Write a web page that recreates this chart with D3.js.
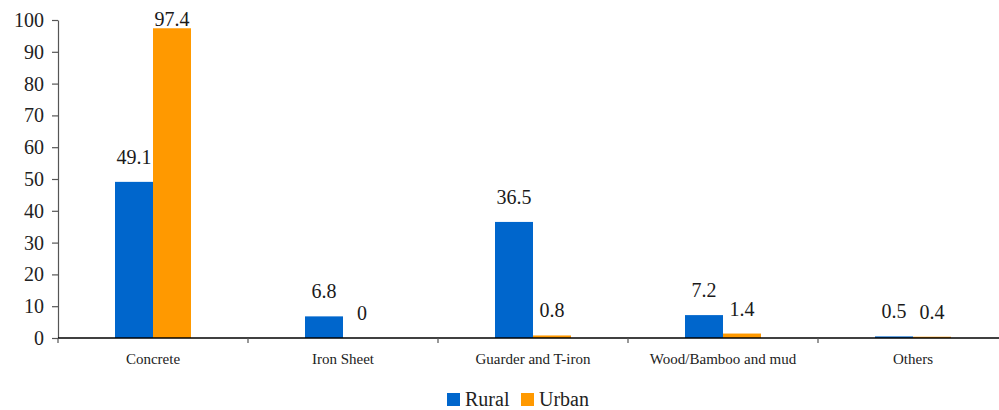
<!DOCTYPE html>
<html>
<head>
<meta charset="utf-8">
<script src="https://cdn.jsdelivr.net/npm/d3@7"></script>
<style>
  html, body { margin: 0; padding: 0; background: #fff; }
  svg { display: block; }
  svg text { font-family: "Liberation Serif", serif; }
</style>
</head>
<body>
<svg id="chart" width="999" height="410"></svg>
<script>
// Roof material shares (%) by area
const categories = ["Concrete", "Iron Sheet", "Guarder and T-iron", "Wood/Bamboo and mud", "Others"];
const rural = [49.1, 6.8, 36.5, 7.2, 0.5];
const urban = [97.4, 0, 0.8, 1.4, 0.4];
const seriesNames = ["Rural", "Urban"];
const yTicks = [0, 10, 20, 30, 40, 50, 60, 70, 80, 90, 100];

const colors = { Rural: "#0066CC", Urban: "#FF9900" };
const serifFont = "\"Liberation Serif\", serif";
const series = [
  { name: seriesNames[0], values: rural },
  { name: seriesNames[1], values: urban }
];

const svg = d3.select("#chart");
const plotLeft = 58, plotTop = 20, plotBottom = 338, bandStep = 190;

const x = d3.scaleBand()
  .domain(categories)
  .range([plotLeft, plotLeft + bandStep * categories.length])
  .paddingInner(0).paddingOuter(0);

const y = d3.scaleLinear().domain([0, 100]).range([plotBottom, plotTop]);

const barW = x.bandwidth() * 0.2;

// bars
series.forEach((s, si) => {
  svg.append("g")
    .selectAll("rect")
    .data(s.values)
    .join("rect")
    .attr("x", (d, i) => x(categories[i]) + x.bandwidth() / 2 - barW + si * barW)
    .attr("y", d => y(d))
    .attr("width", barW)
    .attr("height", d => y(0) - y(d))
    .attr("fill", colors[s.name]);
});

// value labels above bars
series.forEach((s, si) => {
  svg.append("g")
    .selectAll("text")
    .data(s.values)
    .join("text")
    .attr("x", (d, i) => x(categories[i]) + x.bandwidth() / 2 - barW / 2 + si * barW)
    .attr("y", d => Math.max(y(d) - 18, plotTop + 6))
    .attr("text-anchor", "middle")
    .style("font-family", serifFont)
    .style("font-size", "20px")
    .attr("fill", "#1a1a1a")
    .text(d => d);
});

// y axis
const yAxis = svg.append("g")
  .attr("transform", `translate(${plotLeft},0)`)
  .call(d3.axisLeft(y).tickValues(yTicks).tickSize(6).tickPadding(8).tickSizeOuter(0));
yAxis.attr("font-family", null).attr("font-size", null);
yAxis.select(".domain").attr("stroke", "#555").attr("stroke-width", 1.2);
yAxis.selectAll(".tick line").attr("stroke", "#555").attr("stroke-width", 1.2);
yAxis.selectAll(".tick text")
  .style("font-family", serifFont)
  .style("font-size", "20px")
  .attr("fill", "#222");

// x axis: ticks at category boundaries, labels centred in bands
const xg = svg.append("g").attr("transform", `translate(0,${plotBottom})`);
xg.append("line")
  .attr("x1", plotLeft).attr("x2", x.range()[1])
  .attr("y1", 0).attr("y2", 0)
  .attr("stroke", "#000").attr("stroke-width", 1.4);
xg.selectAll("line.bound")
  .data(categories)
  .join("line")
  .attr("class", "bound")
  .attr("x1", d => x(d)).attr("x2", d => x(d))
  .attr("y1", 0).attr("y2", 5)
  .attr("stroke", "#555").attr("stroke-width", 1.2);
xg.selectAll("text")
  .data(categories)
  .join("text")
  .attr("x", d => x(d) + x.bandwidth() / 2)
  .attr("y", 26)
  .attr("text-anchor", "middle")
  .style("font-family", serifFont)
  .style("font-size", "15px")
  .attr("fill", "#222")
  .text(d => d);

// legend
const legend = svg.append("g").attr("transform", "translate(447,393)");
const legendX = [0, 74];
series.forEach((s, i) => {
  const g = legend.append("g").attr("transform", `translate(${legendX[i]},0)`);
  g.append("rect").attr("width", 13).attr("height", 13).attr("fill", colors[s.name]);
  g.append("text")
    .attr("x", 18).attr("y", 13)
    .style("font-family", serifFont)
    .style("font-size", "20px")
    .attr("fill", "#222")
    .text(s.name);
});
</script>
</body>
</html>
